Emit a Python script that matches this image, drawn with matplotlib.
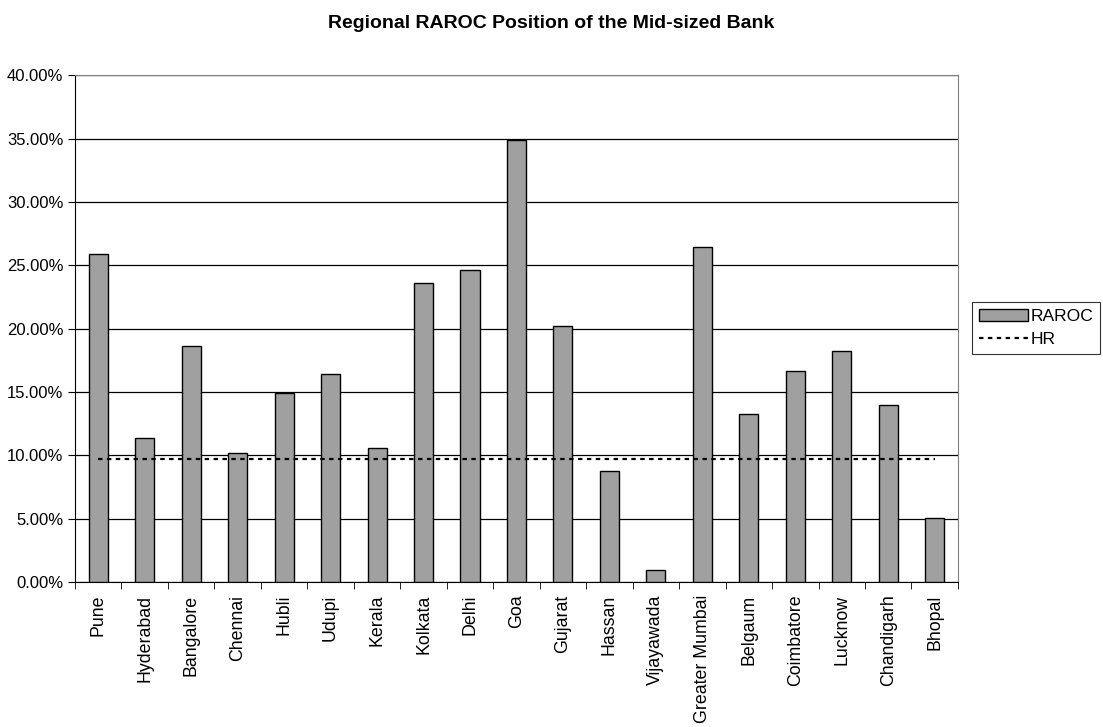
import numpy as np
import matplotlib.pyplot as plt
from matplotlib.ticker import FuncFormatter

plt.rcParams['font.family'] = ['Liberation Sans', 'DejaVu Sans']

regions = ['Pune', 'Hyderabad', 'Bangalore', 'Chennai', 'Hubli', 'Udupi', 'Kerala',
           'Kolkata', 'Delhi', 'Goa', 'Gujarat', 'Hassan', 'Vijayawada',
           'Greater Mumbai', 'Belgaum', 'Coimbatore', 'Lucknow', 'Chandigarh', 'Bhopal']
raroc = [0.259, 0.114, 0.186, 0.102, 0.1495, 0.164, 0.106,
         0.2363, 0.2463, 0.349, 0.202, 0.0876, 0.0095,
         0.2644, 0.1324, 0.1665, 0.182, 0.140, 0.0508]
hr = [0.097] * len(regions)

fig = plt.figure(figsize=(11.03, 7.27), dpi=100)
ax = fig.add_axes([0.068, 0.1994, 0.8005, 0.697])

x = np.arange(len(regions))
bars = ax.bar(x, raroc, width=0.41, color='#a0a0a0', edgecolor='black', linewidth=1,
              label='RAROC', zorder=3)
line, = ax.plot(x, hr, color='black', linestyle=(0, (2, 2)), linewidth=1.6,
                label='HR', zorder=4)

ax.set_xlim(-0.5, len(regions) - 0.5)
ax.set_ylim(0, 0.40)
ax.set_yticks(np.arange(0, 0.41, 0.05))
ax.yaxis.set_major_formatter(FuncFormatter(lambda v, p: '%.2f%%' % (v * 100)))
ax.grid(axis='y', color='black', linewidth=0.9, zorder=0)

ax.set_xticks(x)
ax.set_xticklabels(regions, rotation=90, fontsize=12.8)
ax.set_xticks(np.arange(-0.5, len(regions), 1), minor=True)
ax.tick_params(axis='x', which='major', length=0, pad=9)
ax.tick_params(axis='x', which='minor', length=5, direction='out', color='black')
ax.tick_params(axis='y', length=5, direction='out', labelsize=12)

ax.spines['top'].set_color('#808080')
ax.spines['right'].set_color('#808080')
ax.spines['left'].set_color('black')
ax.spines['bottom'].set_color('black')

fig.text(0.5, 1 - 28 / 727, 'Regional RAROC Position of the Mid-sized Bank',
         fontsize=14, fontweight='bold', ha='center', va='baseline')

leg = fig.legend([bars, line], ['RAROC', 'HR'], loc='center left',
                 bbox_to_anchor=(0.881, 0.549), frameon=True,
                 fancybox=False, edgecolor='black', fontsize=12.6,
                 handlelength=2.8, handletextpad=0.15, borderpad=0.4,
                 labelspacing=0.45, borderaxespad=0)
leg.get_frame().set_linewidth(0.8)

fig.savefig('out.png', dpi=100)
